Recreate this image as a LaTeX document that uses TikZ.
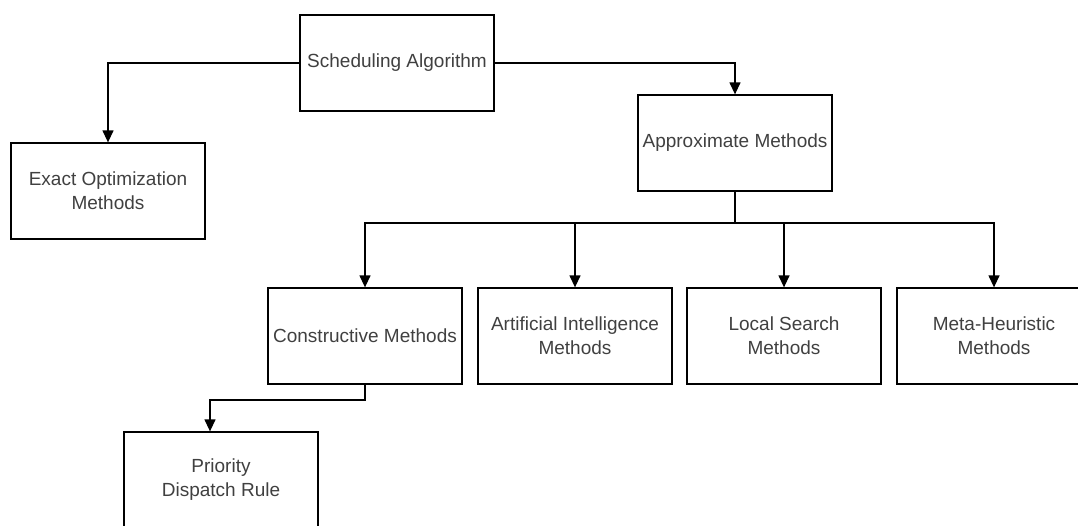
\documentclass[tikz,border=0pt]{standalone}
\usepackage{fontspec}
\setmainfont{Liberation Sans}
\usetikzlibrary{arrows.meta}
\begin{document}
\begin{tikzpicture}
[
  x=1pt, y=-1pt,
  every node/.style ={font=\fontsize{19}{24}\selectfont, text=black!75},
  box/.style ={draw=black, line width=1.3pt, minimum width=194pt, minimum height=96pt, align=center, inner sep=0pt},
  wire/.style ={line width=1.3pt},
  link/.style ={wire, -{Triangle[length=12pt,width=11pt]}},
]
\useasboundingbox (0,0) rectangle (1078,525);
\clip (0,0) rectangle (1078,525);

\node[box] (sched) at (397,63) {Scheduling Algorithm};
\node[box] (exact) at (108,191) {Exact Optimization\\Methods};
\node[box] (approx) at (735,143) {Approximate Methods};

\node[box] (constr) at (365,336) {Constructive Methods};
\node[box] (ai) at (575,336) {Artificial Intelligence\\Methods};
\node[box] (local) at (784,336) {Local Search\\Methods};
\node[box] (meta) at (994,336) {Meta-Heuristic\\Methods};

\node[box] (prio) at (221,480) {Priority\\Dispatch Rule};

\coordinate (bus) at (735,223);
\coordinate (turn) at (210,400);

\draw[link] (sched.west) -| (exact.north);
\draw[link] (sched.east) -| (approx.north);

% bus under the approximate methods
\draw[wire] (approx.south) -- (bus);
\draw[wire, line cap=rect] (bus -| constr) -- (bus -| meta);
\foreach \child in {constr,ai,local,meta}
  \draw[link] (bus -| \child) -- (\child.north);

\draw[link] (constr.south) |- (turn) -- (turn |- prio.north);

\end{tikzpicture}
\end{document}
